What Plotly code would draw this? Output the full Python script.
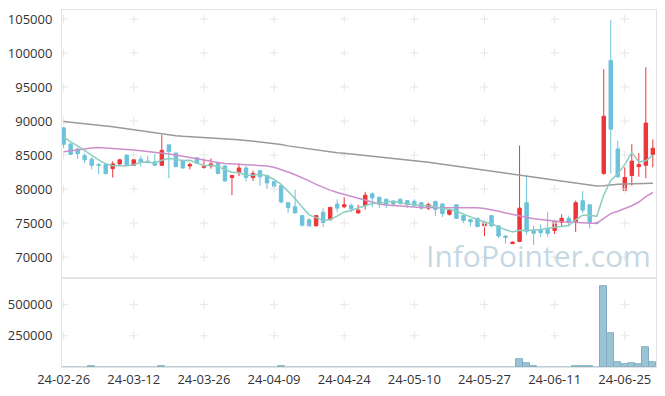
import plotly.graph_objects as go
from plotly.subplots import make_subplots

dates = [
    "24-02-26", "24-02-27", "24-02-28", "24-02-29",
    "24-03-04", "24-03-05", "24-03-06", "24-03-07", "24-03-08",
    "24-03-11", "24-03-12", "24-03-13", "24-03-14", "24-03-15",
    "24-03-18", "24-03-19", "24-03-20", "24-03-21", "24-03-22",
    "24-03-25", "24-03-26", "24-03-27", "24-03-28", "24-03-29",
    "24-04-01", "24-04-02", "24-04-03", "24-04-04", "24-04-05",
    "24-04-08", "24-04-09", "24-04-11", "24-04-12",
    "24-04-15", "24-04-16", "24-04-17", "24-04-18", "24-04-19",
    "24-04-22", "24-04-23", "24-04-24", "24-04-25", "24-04-26",
    "24-04-29", "24-04-30", "24-05-02", "24-05-03",
    "24-05-07", "24-05-08", "24-05-09", "24-05-10",
    "24-05-13", "24-05-14", "24-05-16", "24-05-17",
    "24-05-20", "24-05-21", "24-05-22", "24-05-23", "24-05-24",
    "24-05-27", "24-05-28", "24-05-29", "24-05-30", "24-05-31",
    "24-06-03", "24-06-04", "24-06-05", "24-06-07",
    "24-06-10", "24-06-11", "24-06-12", "24-06-13", "24-06-14",
    "24-06-17", "24-06-18", "24-06-19", "24-06-20", "24-06-21",
    "24-06-24", "24-06-25", "24-06-26", "24-06-27", "24-06-28",
    "24-07-01",
]

opens = [89000, 86600, 85900, 84900, 84400, 83600, 83600, 83000, 83700, 85000,
         83500, 84400, 84100, 84000, 83500, 86500, 85300, 84200, 83400, 84600,
         83200, 83400, 83800, 83400, 81700, 82400, 83100, 81700, 82700, 82000,
         81100, 80500, 78000, 77400, 76100, 75500, 74600, 76600, 75500, 77800,
         77400, 77600, 76500, 77600, 79300, 78800, 78500, 78200, 78500, 78300,
         78200, 78000, 77200, 78200, 77800, 76300, 77700, 76100, 75500, 75700,
         74600, 76100, 74600, 73100, 72000, 72300, 78000, 73900, 74000, 74100,
         73900, 75100, 75700, 75200, 78300, 77700, 75100, 82300, 98900, 85900,
         79800, 82000, 83300, 83500, 85100]
highs = [89100, 86800, 86100, 85300, 84700, 83800, 83600, 84100, 84400, 85000,
         84400, 84900, 84900, 85200, 88000, 86500, 85300, 84300, 83900, 84600,
         84500, 84500, 84000, 83500, 82000, 83800, 83400, 82700, 82700, 82000,
         81200, 80600, 78100, 79900, 76100, 75700, 76100, 77200, 77400, 78500,
         78800, 77900, 77700, 79600, 79500, 78900, 78600, 78400, 78600, 78400,
         78500, 78100, 78000, 78200, 77900, 77000, 77700, 76100, 75700, 75800,
         75100, 76100, 74600, 73200, 72300, 86400, 82100, 74600, 74800, 76600,
         75300, 76300, 76100, 78300, 79700, 77700, 75200, 97600, 104900, 87100,
         83200, 86600, 85300, 97900, 87300]
lows = [86000, 85000, 84400, 83800, 82900, 82200, 82100, 81700, 83500, 83400,
        83400, 83300, 83800, 83400, 83400, 81600, 83200, 83000, 82900, 83700,
        83000, 83000, 82200, 81100, 79100, 81900, 81100, 81200, 80500, 80000,
        80000, 77900, 76500, 76400, 74500, 74500, 74500, 74400, 75400, 76600,
        77200, 76600, 76400, 77000, 77300, 77200, 77200, 77600, 77700, 77200,
        77300, 77000, 76900, 76000, 75900, 76100, 75600, 75000, 74500, 74400,
        73100, 74400, 72800, 72000, 71900, 72200, 73300, 71800, 73000, 73000,
        73400, 74500, 74500, 73700, 76500, 74200, 74900, 82100, 82300, 81700,
        79800, 80500, 81800, 81600, 83200]
closes = [86600, 85100, 85200, 84300, 83500, 83500, 82300, 83700, 84300, 83500,
          84300, 84000, 83900, 83500, 85700, 85500, 83300, 83100, 83600, 83800,
          83300, 83700, 82300, 81200, 82000, 83100, 81700, 82300, 81800, 80900,
          80400, 78100, 77300, 76500, 74700, 74600, 76100, 75100, 77300, 77200,
          77700, 77100, 76900, 79100, 78700, 77800, 77800, 77800, 77900, 77700,
          77600, 77200, 77700, 77000, 76400, 76900, 75700, 75400, 75200, 74500,
          75100, 74600, 73100, 72900, 72200, 77200, 73800, 73500, 73600, 73500,
          75200, 75700, 75100, 78000, 76900, 75100, 75000, 90700, 88800, 81800,
          81700, 84100, 83600, 89700, 86000]

ma5 = [87700, 86950, 86350, 85650, 84910, 84280, 83710, 83420, 83420, 83420,
       83580, 83930, 83970, 83810, 84250, 84500, 84360, 84200, 84230, 83860,
       83420, 83490, 83330, 82850, 82490, 82440, 82050, 82050, 82170, 81950,
       81410, 80680, 79670, 78610, 77370, 76210, 75810, 75370, 75530, 76020,
       76640, 76840, 77210, 77570, 77870, 77900, 78050, 78230, 77990, 77790,
       77740, 77610, 77580, 77400, 77150, 77020, 76730, 76270, 75910, 75520,
       75150, 74920, 74470, 74010, 73700, 73950, 73900, 73950, 74050, 74250,
       74400, 74450, 74650, 75490, 76170, 76140, 76000, 79120, 81280, 82260,
       83590, 85410, 83990, 84160, 84990]
ma20 = [85500, 85650, 85800, 85950, 86050, 86100, 86050, 85950, 85850, 85800,
        85750, 85650, 85550, 85450, 85300, 85150, 85000, 84800, 84600, 84400,
        84250, 84050, 83900, 83750, 83700, 83650, 83600, 83550, 83550, 83400,
        83200, 82900, 82500, 82100, 81700, 81200, 80700, 80250, 79850, 79500,
        79200, 78900, 78600, 78300, 78050, 77800, 77650, 77550, 77500, 77450,
        77350, 77300, 77300, 77300, 77300, 77350, 77350, 77350, 77300, 77250,
        77150, 77000, 76750, 76500, 76250, 76050, 75850, 75650, 75500, 75400,
        75300, 75200, 75150, 75100, 75050, 75000, 74950, 75700, 76400, 76750,
        77100, 77550, 78100, 78900, 79500]
ma60 = [89950, 89850, 89750, 89650, 89550, 89450, 89300, 89150, 89000, 88850,
        88650, 88550, 88400, 88250, 88100, 87950, 87850, 87750, 87700, 87650,
        87600, 87550, 87500, 87450, 87350, 87250, 87150, 87050, 86950, 86850,
        86750, 86550, 86350, 86200, 86000, 85850, 85700, 85600, 85450, 85350,
        85250, 85150, 85050, 84950, 84850, 84750, 84650, 84550, 84400, 84300,
        84200, 84050, 83950, 83800, 83650, 83550, 83400, 83250, 83100, 82950,
        82800, 82650, 82550, 82400, 82250, 82100, 81950, 81800, 81650, 81500,
        81350, 81200, 81050, 80900, 80750, 80600, 80450, 80500, 80650, 80700,
        80750, 80750, 80800, 80800, 80850]
volumes = [2100, 1500, 1200, 1800, 7000, 1400, 1100, 1300, 900, 1600,
           1200, 1000, 800, 1400, 7000, 2200, 1300, 1100, 900, 1000,
           1200, 900, 1100, 1500, 1800, 1300, 1200, 900, 1100, 1400,
           1300, 7000, 2500, 2200, 2400, 1500, 1300, 1600, 1400, 1200,
           1000, 900, 1100, 1700, 1200, 1000, 900, 800, 700, 900,
           800, 1000, 900, 1100, 1200, 900, 1300, 1100, 1000, 1400,
           1500, 1300, 1800, 1600, 1900, 66000, 27000, 6000, 1800, 2500,
           1900, 2200, 2000, 6000, 6000, 6000, 1500, 645000, 268000, 40000,
           18500, 32000, 18500, 155000, 34500]

x_ticks = ["24-02-26", "24-03-12", "24-03-26", "24-04-09", "24-04-24",
           "24-05-10", "24-05-27", "24-06-11", "24-06-25"]
price_ticks = [70000, 75000, 80000, 85000, 90000, 95000, 100000, 105000]
vol_ticks = [250000, 500000]

RED = "#ee3538"
BLUE = "#6cc2da"
FONT = "Open Sans"
TICK_FONT = dict(family=FONT, size=13, color="#333333")

fig = make_subplots(rows=2, cols=1, shared_xaxes=True, vertical_spacing=0,
                    row_heights=[0.7513, 0.2487])

# faint grid crosses at tick intersections
cross = dict(symbol="cross-thin", size=6, line=dict(color="#e6e6e6", width=1))
gx = [d for d in x_ticks for _ in price_ticks]
gy = [p for _ in x_ticks for p in price_ticks]
fig.add_trace(go.Scatter(x=gx, y=gy, mode="markers", hoverinfo="skip",
                         marker=cross, showlegend=False), row=1, col=1)
gx2 = [d for d in x_ticks for _ in vol_ticks]
gy2 = [v for _ in x_ticks for v in vol_ticks]
fig.add_trace(go.Scatter(x=gx2, y=gy2, mode="markers", hoverinfo="skip",
                         marker=cross, showlegend=False), row=2, col=1)

fig.add_trace(go.Scatter(x=dates, y=ma60, mode="lines",
                         line=dict(color="#9a9a9a", width=1.5),
                         showlegend=False), row=1, col=1)
fig.add_trace(go.Scatter(x=dates, y=ma20, mode="lines",
                         line=dict(color="#cc8fcc", width=1.5),
                         showlegend=False), row=1, col=1)
fig.add_trace(go.Scatter(x=dates, y=ma5, mode="lines",
                         line=dict(color="#8ccdc0", width=1.5),
                         showlegend=False), row=1, col=1)

fig.add_trace(go.Candlestick(
    x=dates, open=opens, high=highs, low=lows, close=closes,
    increasing=dict(line=dict(color=RED, width=1), fillcolor=RED),
    decreasing=dict(line=dict(color=BLUE, width=1), fillcolor=BLUE),
    whiskerwidth=0, showlegend=False), row=1, col=1)

# outline only on bars tall enough to be seen
vol_line_w = [1 if v >= 4000 else 0 for v in volumes]
fig.add_trace(go.Bar(x=dates, y=volumes,
                     marker=dict(color="#9cc3d3",
                                 line=dict(color="#7eaec2", width=vol_line_w)),
                     showlegend=False), row=2, col=1)

axis_common = dict(showline=True, linecolor="#e3e3e3", linewidth=1,
                   mirror=True, showgrid=False, zeroline=False)

fig.update_xaxes(type="category", categoryorder="array", categoryarray=dates,
                 range=[-0.23, 84.45], tickmode="array", tickvals=x_ticks,
                 ticktext=x_ticks, ticks="", automargin=False, **axis_common)
fig.update_xaxes(showticklabels=False, rangeslider_visible=False, row=1, col=1)
fig.update_xaxes(showticklabels=True, row=2, col=1, tickfont=TICK_FONT)

fig.update_yaxes(range=[66900, 106320], tickmode="array", tickvals=price_ticks,
                 ticktext=[str(p) for p in price_ticks],
                 ticks="", ticklabelstandoff=6, automargin=False,
                 tickfont=TICK_FONT, row=1, col=1, **axis_common)
fig.update_yaxes(range=[0, 712000], tickmode="array", tickvals=vol_ticks,
                 ticktext=[str(v) for v in vol_ticks],
                 ticks="", ticklabelstandoff=6, automargin=False,
                 tickfont=TICK_FONT, row=2, col=1, **axis_common)

fig.add_annotation(text="InfoPointer.com", xref="paper", yref="paper",
                   x=0.802, y=0.311, xanchor="center", yanchor="middle",
                   showarrow=False,
                   font=dict(family=FONT, size=30, color="rgba(158,190,210,0.62)"))

# page body has an 8px default margin, so the figure is sized to fit the window
fig.update_layout(width=657, height=388, margin=dict(l=54, r=9, t=2, b=29),
                  paper_bgcolor="white", plot_bgcolor="white",
                  bargap=0, showlegend=False, hovermode=False)

fig.write_html("out.html")
